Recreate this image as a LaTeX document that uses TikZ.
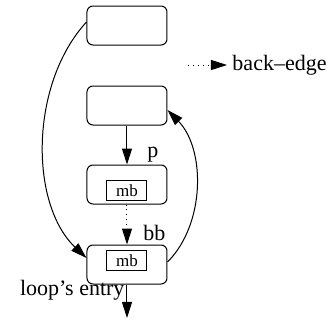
\documentclass[tikz,border=0pt]{standalone}
\usepackage{fontspec}
\setmainfont{Liberation Serif}
\usetikzlibrary{arrows.meta}

\begin{document}
\begin{tikzpicture}[x=0.5bp, y=0.5bp, line width=0.5bp,
    font=\fontsize{11bp}{13bp}\selectfont]
\useasboundingbox (0,0) rectangle (331,324);

\begin{scope}[every node/.style={draw,rectangle,rounded corners=3bp,minimum width=40bp,minimum height=19.5bp}]
    \node (top) at (127, 298.5) {};
    \node (pre) at (127, 218.5) {};
    \node (p) at (127, 139.5) {};
    \node (bb) at (127, 59.5) {};
\end{scope}

\begin{scope}[every node/.style={draw,rectangle,minimum width=20bp,minimum height=10bp,inner sep=0pt,font=\fontsize{8.5bp}{10bp}\selectfont}]
    \node (pmb) at (127, 133.7) {mb};
    \node (bbmb) at (127, 63.5) {mb};
\end{scope}

\coordinate (exit) at (127, 6);
\coordinate (lgstart) at (188, 259);
\node (lgtext) at (227, 259) [anchor=west, inner sep=2.5bp] {back--edge};

\begin{scope}[>={Triangle[length=8bp,width=5bp]}]
    \draw [->] (pre) -- node[pos=0.75, right=10bp, inner sep=0pt] {p} (p);
    \draw [->, dotted] (p) -- node[pos=0.71, right=8bp, inner sep=0pt] {bb} (bb);
    \draw [->] ([yshift=1.75bp]top.west) .. controls +(-57,-62) and +(-57,54) .. ([yshift=3.25bp]bb.west);
    \draw [->] ([yshift=1.25bp]bb.east) .. controls +(38,38) and +(38,-39) .. ([yshift=-2.25bp]pre.east);
    \draw [->] (bb) -- node[pos=0.18, left, inner sep=1bp] {loop's entry} (exit);
    \draw [->, dotted] (lgstart) -- (lgtext.west);
\end{scope}
\end{tikzpicture}
\end{document}
